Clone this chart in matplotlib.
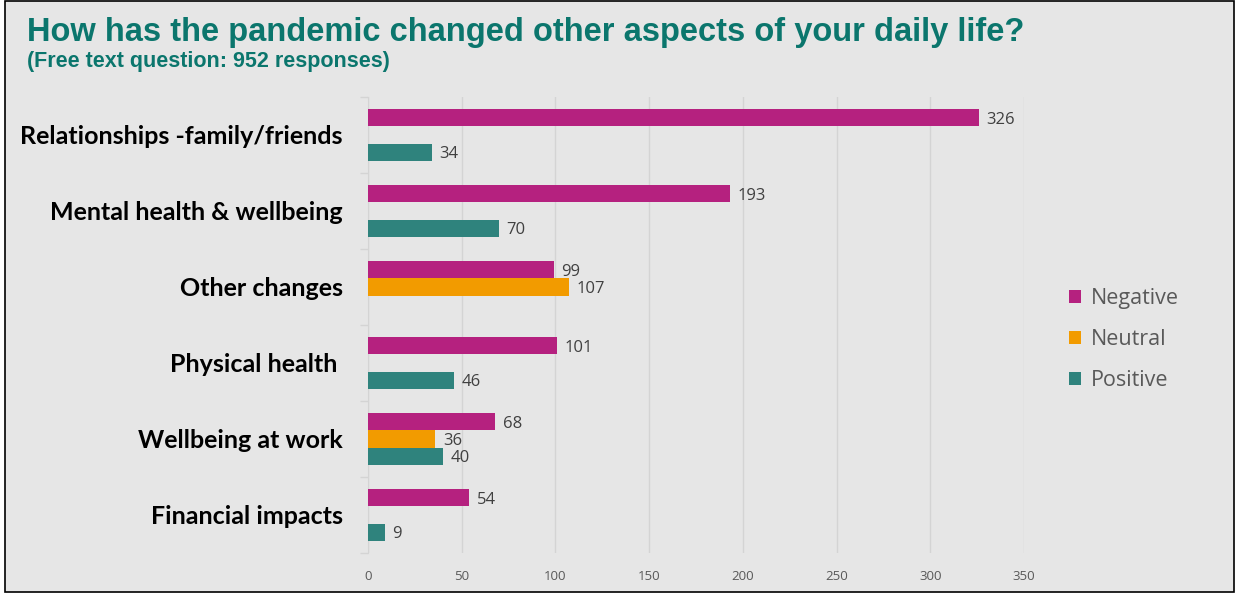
import numpy as np
import matplotlib
matplotlib.use("Agg")
import matplotlib.pyplot as plt
from matplotlib.patches import Rectangle, Patch

categories = [
    "Relationships -family/friends",
    "Mental health & wellbeing",
    "Other changes",
    "Physical health ",
    "Wellbeing at work",
    "Financial impacts",
]
negative = [326, 193, 99, 101, 68, 54]
neutral = [np.nan, np.nan, 107, np.nan, 36, np.nan]
positive = [34, 70, np.nan, 46, 40, 9]
series_names = ["Negative", "Neutral", "Positive"]
series_colors = ["#b5217f", "#f29b00", "#2f837d"]
x_ticks = [0, 50, 100, 150, 200, 250, 300, 350]

W, H = 1239, 596
fig = plt.figure(figsize=(W / 100, H / 100), dpi=100)
fig.patch.set_facecolor("white")
# grey panel with black frame
fig.patches.append(Rectangle((5 / W, 4 / H), 1229 / W, 591 / H, transform=fig.transFigure,
                             facecolor="#e6e6e6", edgecolor="black", linewidth=1.2, zorder=-5))

ax = fig.add_axes([368 / W, 1 - 553 / H, 656 / W, 456 / H])
ax.set_facecolor("none")

title_color = "#0b766d"
fig.text(27 / W, 1 - 32 / H, "How has the pandemic changed other aspects of your daily life?",
         fontsize=23.5, fontweight="bold", color=title_color, family="Liberation Sans",
         va="center", ha="left")
fig.text(27 / W, 1 - 61 / H, "(Free text question: 952 responses)",
         fontsize=15.5, fontweight="bold", color=title_color, family="Liberation Sans",
         va="center", ha="left")

y = np.arange(len(categories))
h = 0.2237
offsets = [-h, 0.0, h]
value_color = "#404040"
for vals, name, col, off in zip([negative, neutral, positive], series_names, series_colors, offsets):
    vals = np.array(vals, dtype=float)
    keep = ~np.isnan(vals)
    ax.barh(y[keep] + off, vals[keep], height=h, color=col, edgecolor="none", zorder=3)
    for yy, v in zip(y[keep], vals[keep]):
        ax.text(v + 4, yy + off + 0.02, f"{int(v)}", va="center", ha="left",
                fontsize=12, color=value_color, family="Open Sans", zorder=4)

ax.set_xlim(0, 350)
ax.set_ylim(len(categories) - 0.5, -0.5)
ax.set_xticks(x_ticks)
ax.set_xticklabels([str(t) for t in x_ticks], fontsize=9.5, color="#595959", family="Open Sans")
ax.tick_params(axis="x", length=0, pad=12)
ax.grid(axis="x", color="#d4d4d4", linewidth=1, zorder=0)

ax.set_yticks(y)
ax.set_yticklabels(categories, fontsize=18, fontweight="bold", color="black", family="Lato")
ax.tick_params(axis="y", length=0, pad=18)
ax.set_yticks(np.arange(-0.5, len(categories) + 0.5, 1), minor=True)
ax.tick_params(axis="y", which="minor", length=6, color="#d4d4d4", width=1)

for s in ["top", "right", "bottom"]:
    ax.spines[s].set_visible(False)
ax.spines["left"].set_color("#d4d4d4")

handles = [Patch(facecolor=c, edgecolor="none") for c in series_colors]
fig.legend(handles, series_names, loc="center left", bbox_to_anchor=(1069 / W, 1 - 339.5 / H),
           frameon=False, prop={"family": "Open Sans", "size": 15.5}, labelcolor="#595959",
           handlelength=0.55, handleheight=0.55, handletextpad=0.45, labelspacing=0.93,
           borderpad=0, borderaxespad=0)

fig.savefig("out.png", dpi=100)
